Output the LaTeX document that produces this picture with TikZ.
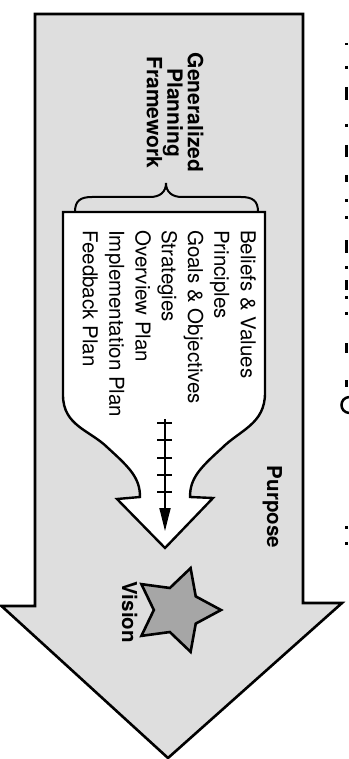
\documentclass[tikz,border=0pt]{standalone}
\usepackage{fontspec}
\setmainfont{TeX Gyre Heros}
\usetikzlibrary{shapes.geometric,arrows.meta}

\tikzset{
  outline/.style={draw=black, line width=2.6pt, line join=miter},
  stipple/.style={fill=black!13},
  innerform/.style={draw=black, line width=2.4pt, fill=white, line join=miter},
  bracestyle/.style={draw=black, line width=2pt, line cap=round},
  flow/.style={draw=black, line width=1.8pt, -{Triangle[length=23pt,width=11pt]}},
  flowtick/.style={draw=black, line width=2pt},
  titletext/.style={rotate=-90, align=center, inner sep=0pt,
    font=\fontsize{21}{20.5}\selectfont\bfseries},
  listtext/.style={rotate=-90, align=left, inner sep=0pt,
    font=\fontsize{20.5}{26.3}\selectfont},
  labeltext/.style={rotate=-90, inner sep=0pt,
    font=\fontsize{20.5}{24}\selectfont\bfseries},
  visionstar/.style={star, star points=5, star point ratio=1.9,
    minimum size=88pt, inner sep=0pt, rotate=-90,
    draw=black, line width=2.6pt, fill=black!35},
  edgemark/.style={draw=black, line width=2.4pt}
}

\begin{document}
\begin{tikzpicture}[x=1pt, y=-1pt]
  \useasboundingbox (0,0) rectangle (348,759);
  \fill[white] (0,0) rectangle (348,759);

  % large downward arrow
  \path[outline, stipple]
    (35,14) -- (303,14) -- (303,603) -- (342,603) -- (168,758)
    -- (1.5,606) -- (35,606) -- cycle;

  % framework body narrowing into its own arrow head
  \path[innerform]
    (63,212) -- (265,212) -- (265,393)
    .. controls (265,424) and (240,430) .. (222,448)
    .. controls (200,468) and (190,478) .. (190,497)
    -- (213,498) -- (165,548) -- (117,499) -- (140,497)
    .. controls (140,478) and (130,468) .. (108,448)
    .. controls (90,430) and (63,426) .. (63,395) -- cycle;

  % brace over the list
  \draw[bracestyle]
    (75,212) .. controls (75,201) and (80,197) .. (92,197) -- (150,197)
    .. controls (160,197) and (166,192) .. (166,183)
    .. controls (166,192) and (172,197) .. (182,197) -- (241,197)
    .. controls (253,197) and (258,201) .. (258,212);

  % texts
  \node[titletext] (framework) at (175,112.5)
    {Generalized\\Planning\\Framework};
  \node[listtext, anchor=north west] (planlist) at (256,230)
    {Beliefs \& Values\\Principles\\Goals \& Objectives\\Strategies\\%
     Overview Plan\\Implementation Plan\\Feedback Plan};
  \node[labeltext, anchor=base] (purpose) at (267,507) {Purpose};
  \node[labeltext, anchor=base] (vision) at (122,612) {Vision};

  % star
  \node[visionstar] (goalstar) at (177,610) {};

  % stepped flow arrow
  \coordinate (flowtop) at (165,419);
  \coordinate (flowtip) at (165,531);
  \draw[flow] (flowtop) -- (flowtip);
  \foreach \t in {423,440,458,475,492}
    \draw[flowtick] (157,\t) -- (172,\t);

  % glyph edges of the clipped caption at the right margin
  \foreach \a/\b in {43/45, 66/69, 87/100, 124/127, 145/157, 175/182,
                     199/202, 216/219, 240/253, 266/269, 280/290, 296/299,
                     312/315, 343/353, 380/387, 526/529, 542/545}
    \draw[edgemark] (346.5,\a) -- (346.5,\b);
  \draw[draw=black, line width=2.5pt] (349,397) .. controls (339,398) and (339,412) .. (349,413);
\end{tikzpicture}
\end{document}
